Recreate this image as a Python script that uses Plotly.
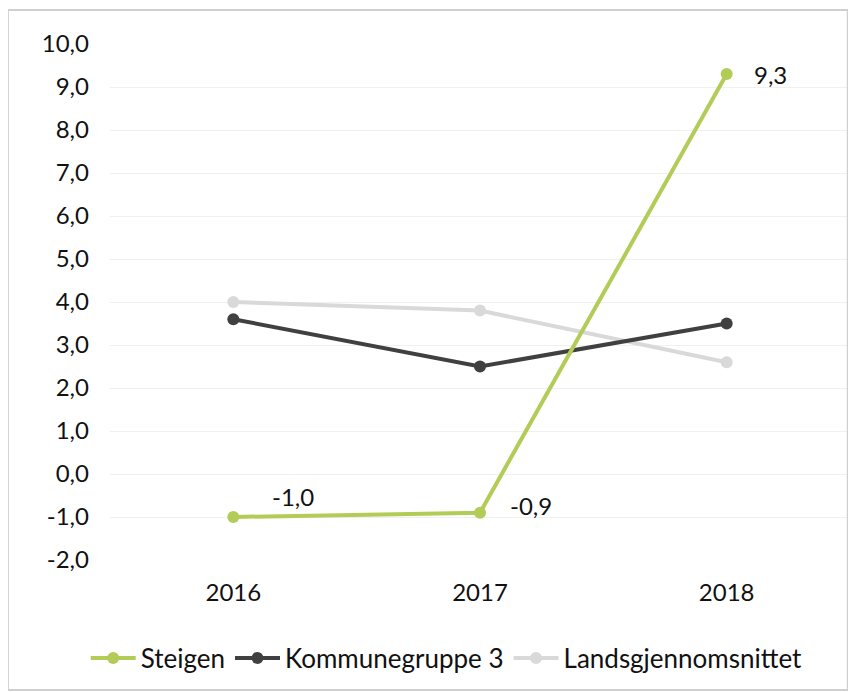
import plotly.graph_objects as go

years = ["2016", "2017", "2018"]
steigen = [-1.0, -0.9, 9.3]
kommunegruppe = [3.6, 2.5, 3.5]
landsgjennomsnitt = [4.0, 3.8, 2.6]
steigen_labels = ["-1,0", "-0,9", "9,3"]
y_ticks = [-2, -1, 0, 1, 2, 3, 4, 5, 6, 7, 8, 9, 10]
y_ticktext = ["-2,0", "-1,0", "0,0", "1,0", "2,0", "3,0", "4,0", "5,0",
              "6,0", "7,0", "8,0", "9,0", "10,0"]

FONT = "Lato"
GREEN = "#b3cc57"

fig = go.Figure()
fig.add_trace(go.Scatter(
    x=years, y=landsgjennomsnitt, name="Landsgjennomsnittet", mode="lines+markers",
    line=dict(color="#d9d9d9", width=4), marker=dict(size=12, color="#d9d9d9"),
))
fig.add_trace(go.Scatter(
    x=years, y=kommunegruppe, name="Kommunegruppe 3", mode="lines+markers",
    line=dict(color="#404040", width=4), marker=dict(size=12, color="#404040"),
))
fig.add_trace(go.Scatter(
    x=years, y=steigen, name="Steigen", mode="lines+markers",
    line=dict(color=GREEN, width=4), marker=dict(size=12, color=GREEN),
))

# data labels for Steigen (category index used for x)
shifts = [(37, 21), (28, 7), (25, 0)]
for i, (val, lab, (dx, dy)) in enumerate(zip(steigen, steigen_labels, shifts)):
    fig.add_annotation(x=i, y=val, text=lab, showarrow=False,
                       xanchor="left", yanchor="middle", xshift=dx, yshift=dy,
                       font=dict(size=24, color="#111111"))

# page has an 8px body margin, so compensate
fig.update_layout(
    width=848, height=684,
    margin=dict(l=102, r=6, t=36, b=132),
    paper_bgcolor="white", plot_bgcolor="white",
    font=dict(family=FONT, size=24, color="#111111"),
    showlegend=True,
    legend=dict(orientation="h", x=0.455, xanchor="center", y=-0.19, yanchor="middle",
                traceorder="reversed", font=dict(size=26), itemwidth=45),
    xaxis=dict(type="category", showgrid=False, showline=False, zeroline=False,
               ticks="", range=[-0.5, 2.5], ticklabelstandoff=16),
    yaxis=dict(range=[-2, 10], tickvals=y_ticks, ticktext=y_ticktext,
               showgrid=True, gridcolor="#f0f0f0", gridwidth=1,
               zeroline=False, showline=False, ticks="", ticklabelstandoff=20),
    shapes=[dict(type="rect", xref="paper", yref="paper",
                 x0=-0.138, x1=0.997, y0=-0.252, y1=1.066,
                 line=dict(color="#cfcfcf", width=2))],
)

fig.write_html("out.html")
